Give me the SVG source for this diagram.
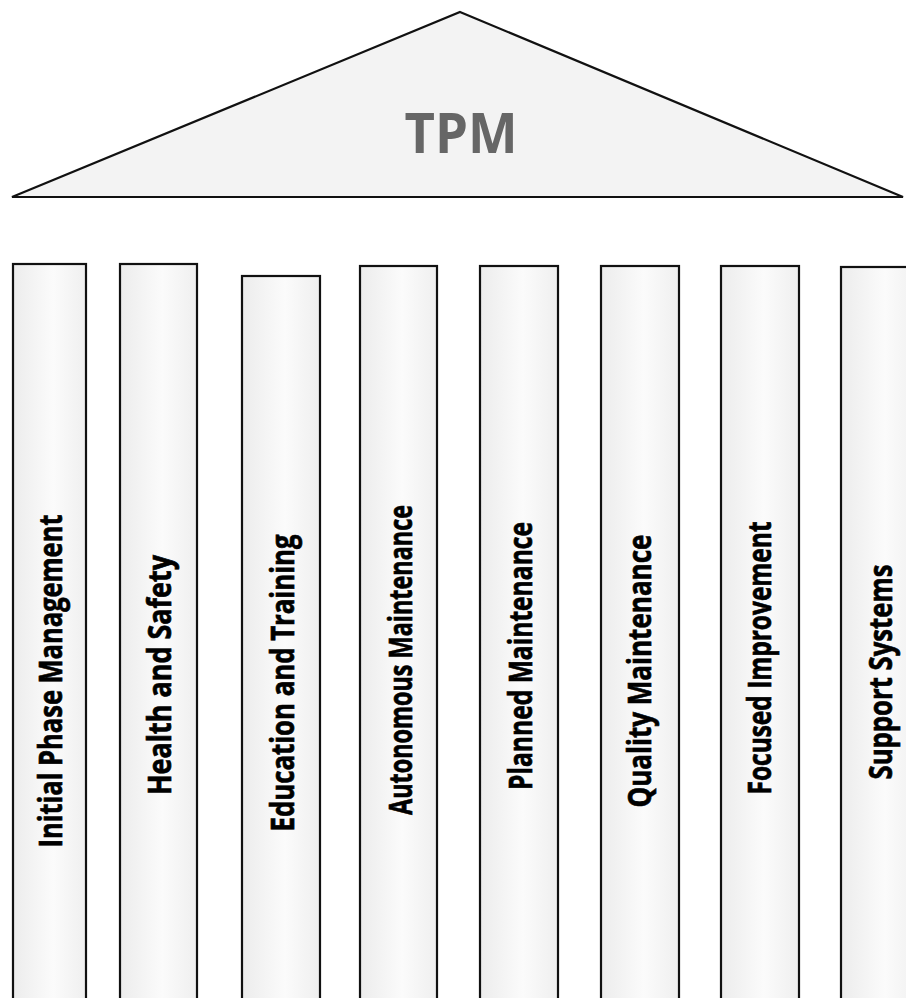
<svg xmlns="http://www.w3.org/2000/svg" width="906" height="998" viewBox="0 0 906 998">
<defs>
<linearGradient id="colg" x1="0" y1="0" x2="1" y2="0">
<stop offset="0" stop-color="#ececec"/>
<stop offset="0.55" stop-color="#fbfbfb"/>
<stop offset="1" stop-color="#efefef"/>
</linearGradient>
<style>
.col{fill:url(#colg);stroke:#111;stroke-width:2.2}
.lbl{font-family:"Comic Sans MS","Open Sans",sans-serif;font-weight:bold;font-size:33px;fill:#000;stroke:#000;stroke-width:0.7;text-anchor:middle}
.roof{fill:#f3f3f3;stroke:#111;stroke-width:2.2;stroke-linejoin:miter}
.tpm{font-family:"Comic Sans MS","Open Sans",sans-serif;font-weight:bold;font-size:55px;fill:#666;text-anchor:middle}
</style>
</defs>
<rect width="906" height="998" fill="#fff"/>
<g id="roof">
<polygon class="roof" points="460,12 903,197 12,197"/>
<text class="tpm" x="461" y="153" textLength="113" lengthAdjust="spacingAndGlyphs">TPM</text>
</g>
<g id="pillar1">
<rect class="col" x="13" y="264" width="73" height="760"/>
<text class="lbl" transform="translate(62,681) rotate(-90)" textLength="333" lengthAdjust="spacingAndGlyphs">Initial Phase Management</text>
</g>
<g id="pillar2">
<rect class="col" x="120" y="264" width="77" height="760"/>
<text class="lbl" transform="translate(171,675) rotate(-90)" textLength="240" lengthAdjust="spacingAndGlyphs">Health and Safety</text>
</g>
<g id="pillar3">
<rect class="col" x="242" y="276" width="78" height="760"/>
<text class="lbl" transform="translate(294,683) rotate(-90)" textLength="297" lengthAdjust="spacingAndGlyphs">Education and Training</text>
</g>
<g id="pillar4">
<rect class="col" x="360" y="266" width="77" height="760"/>
<text class="lbl" transform="translate(412,660) rotate(-90)" textLength="310" lengthAdjust="spacingAndGlyphs">Autonomous Maintenance</text>
</g>
<g id="pillar5">
<rect class="col" x="480" y="266" width="78" height="760"/>
<text class="lbl" transform="translate(532,656) rotate(-90)" textLength="268" lengthAdjust="spacingAndGlyphs">Planned Maintenance</text>
</g>
<g id="pillar6">
<rect class="col" x="601" y="266" width="78" height="760"/>
<text class="lbl" transform="translate(651,671) rotate(-90)" textLength="273" lengthAdjust="spacingAndGlyphs">Quality Maintenance</text>
</g>
<g id="pillar7">
<rect class="col" x="721" y="266" width="78" height="760"/>
<text class="lbl" transform="translate(771,658) rotate(-90)" textLength="273" lengthAdjust="spacingAndGlyphs">Focused Improvement</text>
</g>
<g id="pillar8">
<rect class="col" x="841" y="267" width="80" height="760"/>
<text class="lbl" transform="translate(892,672) rotate(-90)" textLength="215" lengthAdjust="spacingAndGlyphs">Support Systems</text>
</g>
<g id="connectors"/>
</svg>
